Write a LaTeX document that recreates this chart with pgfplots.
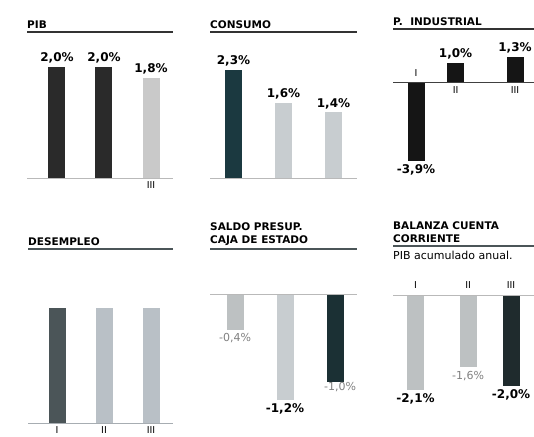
\documentclass[border=0pt]{standalone}
\usepackage{fontspec}
\setmainfont{DejaVu Sans}
\usepackage{pgfplots}
\pgfplotsset{compat=1.18}

\definecolor{darkA}{HTML}{2A2A2A}
\definecolor{lightA}{HTML}{C9C9C9}
\definecolor{tealA}{HTML}{1B3940}
\definecolor{lightB}{HTML}{C8CDD0}
\definecolor{blackA}{HTML}{151515}
\definecolor{slateA}{HTML}{4B5558}
\definecolor{lightC}{HTML}{B9C0C6}
\definecolor{lightD}{HTML}{BDC1C2}
\definecolor{tealB}{HTML}{1B3034}
\definecolor{tealC}{HTML}{1F2B2D}

\newcommand\valfont{\bfseries\fontsize{12}{12}\selectfont}
\newcommand\titfont{\bfseries\fontsize{10.5}{13}\selectfont}
\newcommand\romfont{\fontsize{9.5}{9.5}\selectfont}

\pgfplotsset{
  panel/.style={scale only axis, axis lines=none, ybar, bar width=17pt,
    bar shift=0pt, clip=false, xtick=\empty, ytick=\empty, anchor=north west},
  vals/.style={
    nodes near coords={\pgfmathprintnumber[fixed,fixed zerofill,precision=1,
      use comma,assume math mode=true]{\pgfplotspointmeta}\%},
    nodes near coords align=vertical,
    every node near coord/.append style={font=\valfont, text=black}},
}
\tikzset{
  rule/.style={line width=1.2pt, black!80},
  base/.style={line width=1pt, gray!55},
}

\begin{document}
\begin{tikzpicture}
\path[use as bounding box] (0,0) rectangle (534pt,-436pt);

% PIB
\begin{axis}[panel, vals, at={(27pt,-32pt)}, width=146pt, height=146pt,
  xmin=0.362, xmax=3.468, ymin=0, ymax=2.63]
\addplot[fill=darkA, draw=none] coordinates {(1,2.0)};
\addplot[fill=darkA, draw=none] coordinates {(2,2.0)};
\addplot[fill=lightA, draw=none] coordinates {(3,1.8)};
\draw[base] (axis cs:0.362,0) -- (axis cs:3.468,0);
\draw[rule] (rel axis cs:0,1) -- (rel axis cs:1,1);
\node[anchor=south west, inner sep=0pt, yshift=3pt, font=\titfont] at (rel axis cs:0,1) {PIB};
\node[below, font=\romfont] at (axis cs:3,0) {III};
\end{axis}

% CONSUMO
\begin{axis}[panel, vals, at={(210pt,-32pt)}, width=147pt, height=146pt,
  xmin=0.53, xmax=3.47, ymin=0, ymax=3.11]
\addplot[fill=tealA, draw=none] coordinates {(1,2.3)};
\addplot[fill=lightB, draw=none] coordinates {(2,1.6)};
\addplot[fill=lightB, draw=none] coordinates {(3,1.4)};
\draw[base] (axis cs:0.53,0) -- (axis cs:3.47,0);
\draw[rule] (rel axis cs:0,1) -- (rel axis cs:1,1);
\node[anchor=south west, inner sep=0pt, yshift=3pt, font=\titfont] at (rel axis cs:0,1) {CONSUMO};
\end{axis}

% P. INDUSTRIAL
\begin{axis}[panel, vals, at={(393pt,-29pt)}, width=141pt, height=161pt,
  xmin=0.535, xmax=3.384, ymin=-5.35, ymax=2.7]
\addplot[fill=blackA, draw=none] coordinates {(1,-3.9)};
\addplot[fill=blackA, draw=none] coordinates {(1.8,1.0)};
\addplot[fill=blackA, draw=none] coordinates {(3,1.3)};
\draw[line width=1pt, black!75] (axis cs:0.535,0) -- (axis cs:3.384,0);
\draw[rule] (rel axis cs:0,1) -- (rel axis cs:1,1);
\node[anchor=south west, inner sep=0pt, yshift=3pt, font=\titfont] at (rel axis cs:0,1) {P.~~INDUSTRIAL};
\node[above, font=\romfont, yshift=3pt] at (axis cs:1,0) {I};
\node[below, font=\romfont] at (axis cs:1.8,0) {II};
\node[below, font=\romfont] at (axis cs:3,0) {III};
\end{axis}

% DESEMPLEO
\begin{axis}[panel, at={(28pt,-249pt)}, width=145pt, height=174pt,
  xmin=0.383, xmax=3.468, ymin=0, ymax=1.513]
\addplot[fill=slateA, draw=none] coordinates {(1,1.0)};
\addplot[fill=lightC, draw=none] coordinates {(2,1.0)};
\addplot[fill=lightC, draw=none] coordinates {(3,1.0)};
\draw[line width=1pt, lightC!90!black] (axis cs:0.383,0) -- (axis cs:3.468,0);
\draw[line width=1.2pt, slateA] (rel axis cs:0,1) -- (rel axis cs:1,1);
\node[anchor=south west, inner sep=0pt, yshift=3pt, font=\titfont] at (rel axis cs:0,1) {DESEMPLEO};
\node[below, font=\romfont] at (axis cs:1,0) {I};
\node[below, font=\romfont] at (axis cs:2,0) {II};
\node[below, font=\romfont] at (axis cs:3,0) {III};
\end{axis}

% SALDO PRESUP.
\begin{axis}[panel, vals, at={(210pt,-249pt)}, width=147pt, height=171pt,
  xmin=0.5, xmax=3.44, ymin=-1.43, ymax=0.526]
\addplot[fill=lightD, draw=none, every node near coord/.append style={text=gray, font=\fontsize{11}{11}\selectfont}] coordinates {(1,-0.4)};
\addplot[fill=lightB, draw=none] coordinates {(2,-1.2)};
\addplot[fill=tealB, draw=none, every node near coord/.append style={text=gray, font=\fontsize{11}{11}\selectfont, yshift=4pt, xshift=5pt}] coordinates {(3,-1.0)};
\draw[base] (axis cs:0.5,0) -- (axis cs:3.44,0);
\draw[line width=1.2pt, slateA] (rel axis cs:0,1) -- (rel axis cs:1,1);
\node[anchor=south west, align=left, inner sep=0pt, yshift=3pt, font=\titfont] at (rel axis cs:0,1) {SALDO PRESUP.\\CAJA DE ESTADO};
\end{axis}

% BALANZA CUENTA CORRIENTE
\begin{axis}[panel, vals, at={(393pt,-246pt)}, width=141pt, height=169pt,
  xmin=0.529, xmax=3.48, ymin=-2.65, ymax=1.084]
\addplot[fill=lightD, draw=none] coordinates {(1,-2.1)};
\addplot[fill=lightD, draw=none, every node near coord/.append style={text=gray, font=\fontsize{11}{11}\selectfont}] coordinates {(2.1,-1.6)};
\addplot[fill=tealC, draw=none] coordinates {(3,-2.0)};
\draw[base] (axis cs:0.529,0) -- (axis cs:3.48,0);
\draw[line width=1.2pt, slateA] (rel axis cs:0,1) -- (rel axis cs:1,1);
\node[anchor=south west, align=left, inner sep=0pt, yshift=3pt, font=\titfont] at (rel axis cs:0,1) {BALANZA CUENTA\\CORRIENTE};
\node[anchor=north west, inner sep=0pt, yshift=-5pt, font=\fontsize{11}{12}\selectfont] at (rel axis cs:0,1) {PIB acumulado anual.};
\node[above, font=\romfont, yshift=3pt] at (axis cs:1,0) {I};
\node[above, font=\romfont, yshift=3pt] at (axis cs:2.1,0) {II};
\node[above, font=\romfont, yshift=3pt] at (axis cs:3,0) {III};
\end{axis}
\end{tikzpicture}
\end{document}
